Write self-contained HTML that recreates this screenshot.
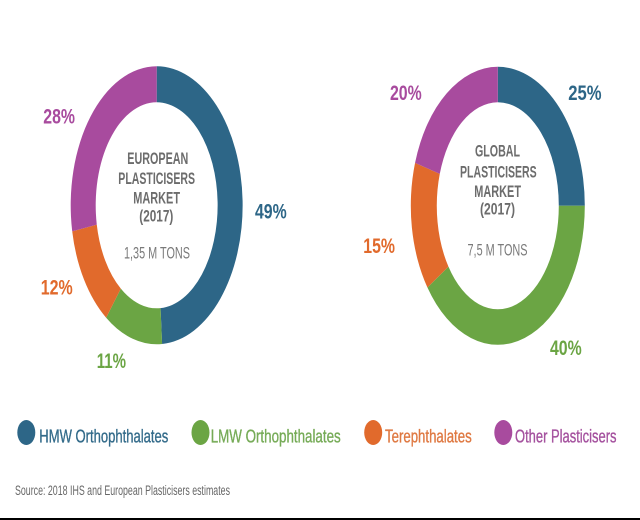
<!DOCTYPE html>
<html>
<head>
<meta charset="utf-8">
<style>
  html, body { margin:0; padding:0; background:#ffffff; }
  body { width:640px; height:520px; overflow:hidden; }
  svg { display:block; }
  text { font-family: "Liberation Sans", "DejaVu Sans", sans-serif; }
</style>
</head>
<body>
<svg width="640" height="520" viewBox="0 0 640 520" xmlns="http://www.w3.org/2000/svg">
  <rect x="0" y="0" width="640" height="520" fill="#ffffff"/>

  <!-- LEFT DONUT (European) -->
  <path d="M156.7,66.3 A86,139 0 0 1 162.10,344.02 L160.53,308.09 A61,103 0 0 0 156.7,102.3 Z" fill="#2d6687"/>
  <path d="M162.10,344.02 A86,139 0 0 1 106.15,317.75 L120.84,288.63 A61,103 0 0 0 160.53,308.09 Z" fill="#6ba544"/>
  <path d="M106.15,317.75 A86,139 0 0 1 72.22,231.35 L96.78,224.60 A61,103 0 0 0 120.84,288.63 Z" fill="#e16a2c"/>
  <path d="M72.22,231.35 A86,139 0 0 1 156.7,66.3 L156.7,102.3 A61,103 0 0 0 96.78,224.60 Z" fill="#a84b9e"/>

  <!-- RIGHT DONUT (Global) -->
  <path d="M497.8,66.8 A87,139 0 0 1 584.8,205.8 L558.8,205.8 A61,103.5 0 0 0 497.8,102.3 Z" fill="#2d6687"/>
  <path d="M584.8,205.8 A87,139 0 0 1 427.42,287.50 L448.45,266.64 A61,103.5 0 0 0 558.8,205.8 Z" fill="#6ba544"/>
  <path d="M427.42,287.50 A87,139 0 0 1 415.06,162.85 L439.78,173.82 A61,103.5 0 0 0 448.45,266.64 Z" fill="#e16a2c"/>
  <path d="M415.06,162.85 A87,139 0 0 1 497.8,66.8 L497.8,102.3 A61,103.5 0 0 0 439.78,173.82 Z" fill="#a84b9e"/>

  <!-- Percent labels -->
  <g font-weight="bold" font-size="21">
    <text x="43.3" y="123.3" textLength="31.7" lengthAdjust="spacingAndGlyphs" fill="#a84b9e">28%</text>
    <text x="255" y="218.3" textLength="31.7" lengthAdjust="spacingAndGlyphs" fill="#2d6687">49%</text>
    <text x="40.7" y="294.5" textLength="32" lengthAdjust="spacingAndGlyphs" fill="#e16a2c">12%</text>
    <text x="96.7" y="368" textLength="29.3" lengthAdjust="spacingAndGlyphs" fill="#6ba544">11%</text>

    <text x="390" y="100" textLength="31.7" lengthAdjust="spacingAndGlyphs" fill="#a84b9e">20%</text>
    <text x="568.3" y="100" textLength="33.3" lengthAdjust="spacingAndGlyphs" fill="#2d6687">25%</text>
    <text x="363.3" y="253" textLength="31.7" lengthAdjust="spacingAndGlyphs" fill="#e16a2c">15%</text>
    <text x="550" y="355" textLength="31.7" lengthAdjust="spacingAndGlyphs" fill="#6ba544">40%</text>
  </g>

  <!-- Center text left -->
  <g font-weight="bold" font-size="16.5" fill="#6c6c6c">
    <text x="127.3" y="164" textLength="61" lengthAdjust="spacingAndGlyphs">EUROPEAN</text>
    <text x="118.3" y="184" textLength="76.7" lengthAdjust="spacingAndGlyphs">PLASTICISERS</text>
    <text x="133.3" y="203.3" textLength="46.7" lengthAdjust="spacingAndGlyphs">MARKET</text>
    <text x="139.3" y="221.5" textLength="34" lengthAdjust="spacingAndGlyphs">(2017)</text>
  </g>
  <text x="124" y="258.3" font-size="16.5" fill="#7a7a7a" textLength="66" lengthAdjust="spacingAndGlyphs">1,35 M TONS</text>

  <!-- Center text right -->
  <g font-weight="bold" font-size="16.5" fill="#6c6c6c">
    <text x="475" y="156.7" textLength="45" lengthAdjust="spacingAndGlyphs">GLOBAL</text>
    <text x="460" y="177.3" textLength="76.7" lengthAdjust="spacingAndGlyphs">PLASTICISERS</text>
    <text x="474.3" y="197" textLength="46.7" lengthAdjust="spacingAndGlyphs">MARKET</text>
    <text x="480" y="214.5" textLength="35" lengthAdjust="spacingAndGlyphs">(2017)</text>
  </g>
  <text x="467.5" y="255.5" font-size="16.5" fill="#7a7a7a" textLength="60" lengthAdjust="spacingAndGlyphs">7,5 M TONS</text>

  <!-- Legend -->
  <ellipse cx="26.3" cy="432.5" rx="9" ry="12.5" fill="#2d6687"/>
  <ellipse cx="200.5" cy="432.5" rx="9" ry="12.5" fill="#6ba544"/>
  <ellipse cx="373.2" cy="432.5" rx="9" ry="12.5" fill="#e16a2c"/>
  <ellipse cx="503.3" cy="432.5" rx="9" ry="12.5" fill="#a84b9e"/>

  <g font-size="18" stroke-width="0.35">
    <text x="39.3" y="442.3" textLength="129" lengthAdjust="spacingAndGlyphs" fill="#336b8a" stroke="#336b8a">HMW Orthophthalates</text>
    <text x="210.7" y="442.3" textLength="130" lengthAdjust="spacingAndGlyphs" fill="#76ab57" stroke="#76ab57">LMW Orthophthalates</text>
    <text x="385" y="442.3" textLength="86.7" lengthAdjust="spacingAndGlyphs" fill="#df7942" stroke="#df7942">Terephthalates</text>
    <text x="515" y="442.3" textLength="101.5" lengthAdjust="spacingAndGlyphs" fill="#a4519e" stroke="#a4519e">Other Plasticisers</text>
  </g>

  <!-- Source -->
  <text x="15" y="495" font-size="13.5" fill="#676767" textLength="215" lengthAdjust="spacingAndGlyphs">Source: 2018 IHS and European Plasticisers estimates</text>

  <!-- bottom black bar -->
  <rect x="0" y="518" width="640" height="2" fill="#000000"/>
</svg>
</body>
</html>
